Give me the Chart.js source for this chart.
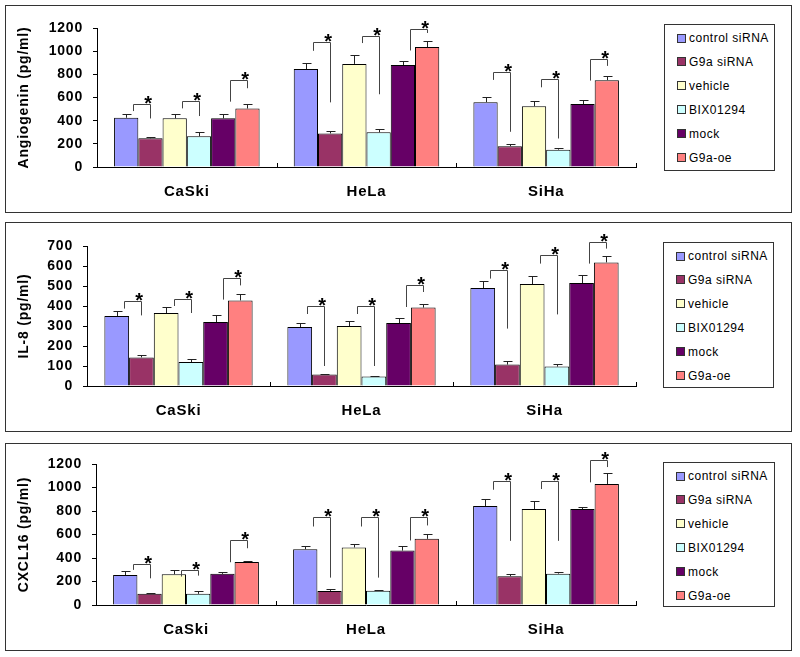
<!DOCTYPE html>
<html>
<head>
<meta charset="utf-8">
<script src="https://cdn.jsdelivr.net/npm/chart.js@4.4.1/dist/chart.umd.min.js"></script>
<style>
  body { margin: 0; background: #fff; width: 800px; height: 657px; position: relative; overflow: hidden;
         font-family: Arial, "Liberation Sans", sans-serif; }
  canvas { position: absolute; left: 0; }
  .frame { position: absolute; left: 5px; width: 787px; border: 1px solid #333; box-sizing: border-box; }
  .legend { position: absolute; border: 1px solid #333; background: #fff; box-sizing: border-box; }
  .item { position: absolute; left: 12px; height: 16px; display: flex; align-items: center;
          font-size: 12px; letter-spacing: 0.5px; white-space: nowrap; color: #000; }
  .sw { width: 7px; height: 7px; border: 1px solid #333; margin-right: 3px; }
</style>
</head>
<body>

<script>
const categories = ['CaSki', 'HeLa', 'SiHa'];
const seriesNames = ['control siRNA', 'G9a siRNA', 'vehicle', 'BIX01294', 'mock', 'G9a-oe'];
const seriesColors = ['#9999ff', '#993366', '#ffffcc', '#ccffff', '#660066', '#ff8080'];

// rows = series (same order as seriesNames), columns = CaSki, HeLa, SiHa
const angMeans = [
  [425, 845, 560],
  [248, 290, 180],
  [420, 890, 525],
  [265, 300, 150],
  [420, 880, 543],
  [505, 1035, 750]
];
const angErrors = [
  [35, 55, 45],
  [10, 17, 15],
  [35, 80, 45],
  [38, 28, 18],
  [35, 35, 37],
  [43, 50, 35]
];

const il8Means = [
  [350, 295, 490],
  [143, 57, 107],
  [365, 300, 510],
  [120, 47, 97],
  [320, 315, 515],
  [428, 392, 618]
];
const il8Errors = [
  [25, 20, 35],
  [12, 5, 16],
  [32, 25, 40],
  [13, 4, 15],
  [37, 27, 40],
  [30, 20, 32]
];

const cxclMeans = [
  [255, 475, 842],
  [95, 120, 245],
  [262, 490, 816],
  [95, 122, 267],
  [265, 463, 816],
  [365, 563, 1030]
];
const cxclErrors = [
  [35, 25, 60],
  [3, 20, 17],
  [35, 28, 70],
  [20, 3, 17],
  [15, 35, 17],
  [6, 42, 95]
];

// significance brackets: [top, left leg end, right leg end] in data units
// order: CaSki pairs 1-3, HeLa pairs 1-3, SiHa pairs 1-3
const angBrackets = [
  [541, 483, 419], [570, 506, 440], [752, 564, 680],
  [1076, 1003, 558], [1134, 1070, 628], [1194, 1006, 1157],
  [824, 752, 304], [761, 688, 246], [934, 746, 873]
];
const il8Brackets = [
  [423, 387, 353], [437, 400, 365], [542, 432, 503],
  [400, 360, 100], [400, 360, 100], [507, 395, 470],
  [578, 537, 287], [653, 612, 358], [720, 612, 687]
];
const cxclBrackets = [
  [350, 299, 227], [299, 242, 250], [554, 364, 483],
  [745, 668, 233], [745, 668, 233], [745, 549, 677],
  [1052, 981, 546], [1058, 987, 546], [1237, 1044, 1174]
];

const angTicks = { max: 1200, step: 200 };
const il8Ticks = { max: 700, step: 100 };
const cxclTicks = { max: 1200, step: 200 };

const FONT = 'Arial, "Liberation Sans", sans-serif';

// error bars, brackets with stars, and the small inside ticks between categories
const overlay = {
  id: 'overlay',
  beforeDraw(chart) {
    chart.ctx.letterSpacing = '0.8px';
  },
  afterDatasetsDraw(chart, args, opts) {
    const { ctx, scales: { x, y } } = chart;
    const px = v => Math.round(v) + 0.5;
    ctx.save();
    ctx.strokeStyle = '#222';
    ctx.lineWidth = 1;

    ctx.beginPath();
    chart.data.datasets.forEach((ds, s) => {
      chart.getDatasetMeta(s).data.forEach((bar, i) => {
        const top = px(y.getPixelForValue(ds.data[i] + opts.errors[s][i]));
        const bx = px(bar.x);
        ctx.moveTo(bx, bar.y);
        ctx.lineTo(bx, top);
        ctx.moveTo(bx - 4, top);
        ctx.lineTo(bx + 5, top);
      });
    });
    ctx.stroke();

    ctx.strokeStyle = '#444';
    ctx.fillStyle = '#000';
    ctx.font = 'bold 20px ' + FONT;
    ctx.textAlign = 'center';
    ctx.textBaseline = 'alphabetic';
    opts.brackets.forEach((b, k) => {
      const cat = Math.floor(k / 3), pair = k % 3;
      const b1 = chart.getDatasetMeta(pair * 2).data[cat];
      const b2 = chart.getDatasetMeta(pair * 2 + 1).data[cat];
      const xl = px(b1.x + 0.3 * b1.width), xr = px(b2.x);
      const yt = px(y.getPixelForValue(b[0]));
      ctx.beginPath();
      ctx.moveTo(xl, y.getPixelForValue(b[1]));
      ctx.lineTo(xl, yt);
      ctx.lineTo(xr, yt);
      ctx.lineTo(xr, y.getPixelForValue(b[2]));
      ctx.stroke();
      ctx.fillText('*', xr - 2, yt + 5);
    });

    ctx.strokeStyle = '#000';
    ctx.beginPath();
    const catW = (x.right - x.left) / categories.length;
    for (let k = 1; k <= categories.length; k++) {
      const xx = px(x.left + k * catW);
      ctx.moveTo(xx, y.bottom);
      ctx.lineTo(xx, y.bottom - 4);
    }
    ctx.stroke();
    ctx.restore();
  }
};

function addPanel(p) {
  const frame = document.createElement('div');
  frame.className = 'frame';
  frame.style.top = p.top + 'px';
  frame.style.height = p.height + 'px';

  const canvas = document.createElement('canvas');
  canvas.width = 800;
  canvas.height = p.height;
  canvas.style.top = p.top + 'px';
  document.body.appendChild(canvas);
  document.body.appendChild(frame);

  const legend = document.createElement('div');
  legend.className = 'legend';
  legend.style.left = p.legend[0] + 'px';
  legend.style.top = p.legend[1] + 'px';
  legend.style.width = p.legend[2] + 'px';
  legend.style.height = p.legend[3] + 'px';
  seriesNames.forEach((name, i) => {
    const item = document.createElement('div');
    item.className = 'item';
    item.style.top = (13 + i * 23.9 - 8) + 'px';
    item.innerHTML = `<span class="sw" style="background:${seriesColors[i]}"></span>${name}`;
    legend.appendChild(item);
  });
  document.body.appendChild(legend);

  new Chart(canvas, {
    type: 'bar',
    data: {
      labels: categories,
      datasets: seriesNames.map((name, i) => ({
        label: name,
        data: p.means[i],
        backgroundColor: seriesColors[i],
        borderColor: '#000',
        borderWidth: 1,
        barPercentage: 1,
        categoryPercentage: 0.81
      }))
    },
    options: {
      responsive: false,
      animation: false,
      layout: { padding: { left: 0, right: 164, top: p.padTop, bottom: 0 } },
      plugins: {
        legend: { display: false },
        tooltip: { enabled: false },
        overlay: { errors: p.errors, brackets: p.brackets }
      },
      scales: {
        x: {
          grid: { display: false, drawTicks: false },
          border: { color: '#000' },
          ticks: { color: '#000', padding: 16, font: { family: FONT, size: 15, weight: 'bold' } },
          afterFit(s) { s.height = 46; }
        },
        y: {
          min: 0,
          max: p.ticks.max,
          ticks: { stepSize: p.ticks.step, color: '#000', padding: 10,
                   callback: v => String(v),
                   font: { family: FONT, size: 14, weight: 'bold' } },
          grid: { drawOnChartArea: false, tickLength: 4, color: '#000' },
          border: { color: '#000' },
          title: { display: true, text: p.title, color: '#000',
                   font: { family: FONT, size: 14, weight: 'bold' }, padding: { top: 16, bottom: 0 } },
          afterFit(s) { s.width = p.yWidth; }
        }
      }
    },
    plugins: [overlay]
  });
}

addPanel({ top: 5, height: 208, padTop: 23, yWidth: 97, title: 'Angiogenin (pg/ml)',
           means: angMeans, errors: angErrors, brackets: angBrackets, ticks: angTicks,
           legend: [664, 24, 111, 147] });
addPanel({ top: 222, height: 210, padTop: 24, yWidth: 87, title: 'IL-8 (pg/ml)',
           means: il8Means, errors: il8Errors, brackets: il8Brackets, ticks: il8Ticks,
           legend: [663, 242, 111, 146] });
addPanel({ top: 443, height: 208, padTop: 21, yWidth: 96, title: 'CXCL16 (pg/ml)',
           means: cxclMeans, errors: cxclErrors, brackets: cxclBrackets, ticks: cxclTicks,
           legend: [663, 462, 112, 145] });
</script>
</body>
</html>
